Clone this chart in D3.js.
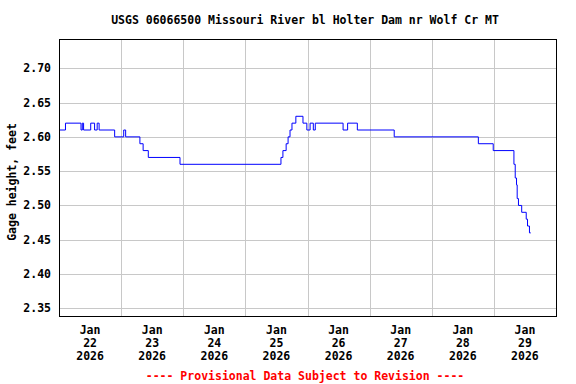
<!DOCTYPE html>
<html><head><meta charset="utf-8">
<script src="https://cdn.jsdelivr.net/npm/d3@7"></script>
<style>body{margin:0;background:#fff}svg{display:block}text{font-family:"DejaVu Sans Mono",monospace;font-weight:bold}</style>
</head><body><svg id="c" width="576" height="384"></svg>
<script>
const title = "USGS 06066500 Missouri River bl Holter Dam nr Wolf Cr MT";
const yLabel = "Gage height, feet";
const footer = "---- Provisional Data Subject to Revision ----";
const yTicks = [2.35, 2.40, 2.45, 2.50, 2.55, 2.60, 2.65, 2.70];
const dayTicks = ["2026-01-22","2026-01-23","2026-01-24","2026-01-25","2026-01-26","2026-01-27","2026-01-28","2026-01-29"];
// hours since Jan 22 00:00 at which gage height changes, and the new value
const hours = [0, 2.5, 8.5, 9.0, 9.5, 12.25, 13.75, 14.75, 15.5, 21.5, 25.0, 25.75, 31.25, 32.5, 34.5, 46.75,
  85.75, 86.5, 87.75, 88.5, 89.25, 90.0, 91.5, 94.25, 95.75, 97.0, 98.25, 99.0, 109.75, 111.5, 115.25, 129.5,
  162.0, 167.75, 175.75, 176.25, 176.75, 177.0, 177.5, 178.75, 180.5, 181.0, 181.75, 182.25];
const heights = [2.61, 2.62, 2.61, 2.62, 2.61, 2.62, 2.61, 2.62, 2.61, 2.60, 2.61, 2.60, 2.59, 2.58, 2.57, 2.56,
  2.57, 2.58, 2.59, 2.60, 2.61, 2.62, 2.63, 2.62, 2.61, 2.62, 2.61, 2.62, 2.61, 2.62, 2.61, 2.60,
  2.59, 2.58, 2.56, 2.54, 2.53, 2.51, 2.50, 2.49, 2.48, 2.47, 2.46, 2.46];

const t0 = Date.UTC(2026,0,22);
const data = hours.map((h,i)=>({t:new Date(t0+h*3600e3), v:heights[i]}));
const svg = d3.select("#c");
const L=59, R=556, T=39, B=316;
const x = d3.scaleUtc().domain([new Date(t0), new Date(Date.UTC(2026,0,30))]).range([L,R]);
const y = d3.scaleLinear().domain([2.3388, 2.7427]).range([B,T]);

// grid
const days = dayTicks.map(s=>new Date(s+"T00:00:00Z"));
svg.append("g").selectAll("line").data(days.slice(1)).join("line")
  .attr("x1",d=>Math.round(x(d))+0.5).attr("x2",d=>Math.round(x(d))+0.5)
  .attr("y1",T).attr("y2",B).attr("stroke","#c8c8c8").attr("stroke-width",1);
svg.append("g").selectAll("line").data(yTicks).join("line")
  .attr("y1",d=>Math.round(y(d))+0.5).attr("y2",d=>Math.round(y(d))+0.5)
  .attr("x1",L).attr("x2",R).attr("stroke","#c8c8c8").attr("stroke-width",1);

// data line
const line = d3.line().x(d=>x(d.t)).y(d=>y(d.v)).curve(d3.curveStepAfter);
svg.append("path").datum(data).attr("d",line).attr("fill","none").attr("stroke","#0000ff").attr("stroke-width",1);

// frame
svg.append("rect").attr("x",L+0.5).attr("y",T+0.5).attr("width",R-L).attr("height",B-T)
  .attr("fill","none").attr("stroke","#000").attr("stroke-width",1);

// y labels
svg.append("g").selectAll("text").data(yTicks).join("text")
  .attr("x",51).attr("y",d=>y(d)+4).attr("text-anchor","end").attr("font-size",11.5).text(d=>d.toFixed(2));
svg.append("text").attr("transform","translate(16,182) rotate(-90)").attr("text-anchor","middle")
  .attr("font-size",11.5).text(yLabel);

// x labels at noon
const fm = d3.utcFormat("%b"), fd = d3.utcFormat("%d"), fy = d3.utcFormat("%Y");
const lab = svg.append("g").selectAll("text").data(days).join("text")
  .attr("text-anchor","middle").attr("font-size",11.5);
lab.each(function(d){
  const cx = x(new Date(+d+12*3600e3));
  const t = d3.select(this);
  [fm(d), fd(d), fy(d)].forEach((s,i)=>t.append("tspan").attr("x",cx).attr("y",334+i*13).text(s));
});

svg.append("text").attr("x",305).attr("y",24).attr("text-anchor","middle").attr("font-size",11.5).text(title);
svg.append("text").attr("x",305).attr("y",380).attr("text-anchor","middle").attr("font-size",11.5).attr("fill","#ff0000").text(footer);
</script></body></html>
